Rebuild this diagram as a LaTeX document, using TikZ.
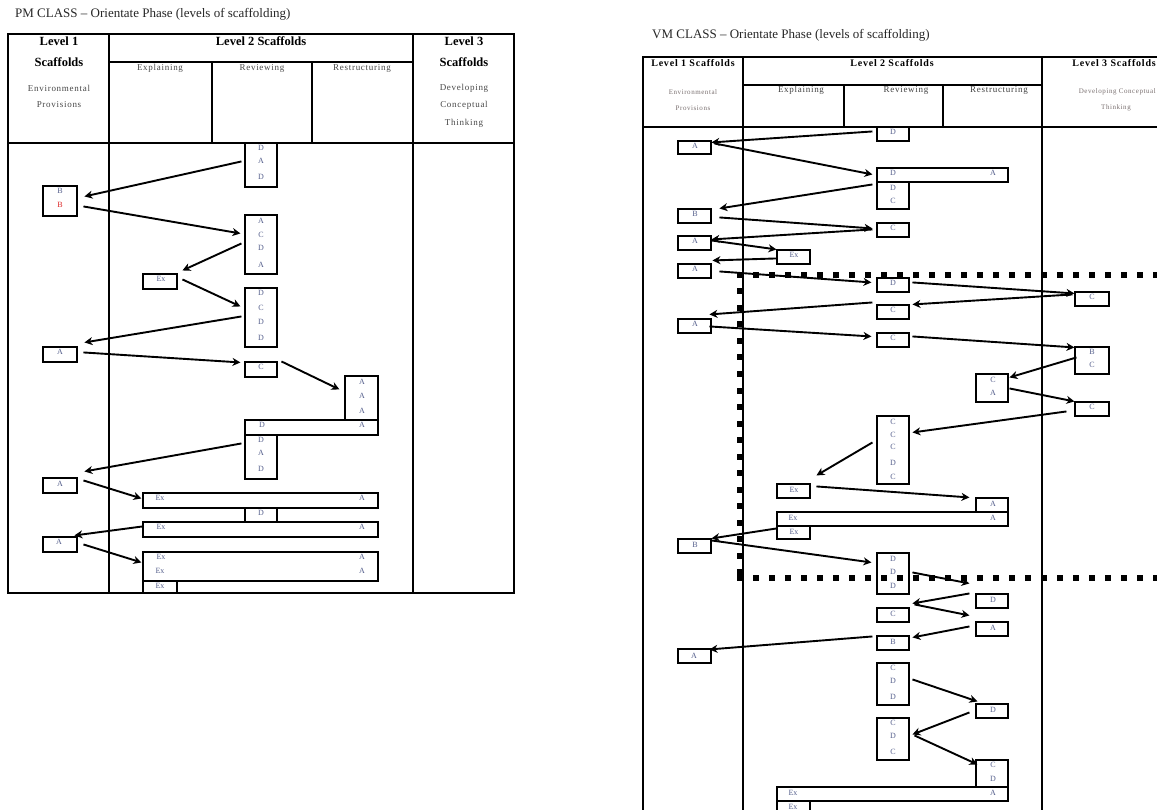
\documentclass[tikz,border=0pt]{standalone}
\usepackage{fontspec}
\setmainfont{Liberation Serif}
\newfontfamily\spc[LetterSpace=8]{Liberation Serif}
\newfontfamily\spcb[LetterSpace=8]{Liberation Serif}
\usetikzlibrary{calc,fit,arrows.meta}
\definecolor{letc}{RGB}{85,95,140}
\definecolor{subc}{RGB}{70,70,70}
\definecolor{envc}{RGB}{120,110,110}
\definecolor{redb}{RGB}{220,40,40}
\begin{document}
\begin{tikzpicture}[x=1pt,y=-1pt,
  bx/.style={draw, inner sep=0pt, line width=1.1pt},
  lt/.style={font=\fontsize{8}{9}\selectfont, text=letc, inner sep=0pt},
  arr/.style={line width=1.9pt, -{Stealth[length=8pt,width=8pt,inset=2.5pt]}},
  tl/.style={line width=1.3pt},
  ttl/.style={anchor=west, font=\fontsize{13}{15}\selectfont, text=black!85, inner sep=0pt},
  hd/.style={font=\fontsize{12.5}{14}\selectfont\bfseries, inner sep=0pt},
  hdv/.style={font=\spcb\fontsize{10}{12}\selectfont\bfseries, inner sep=0pt},
  sub/.style={font=\spc\fontsize{9}{10}\selectfont, text=subc, inner sep=0pt},
  subv/.style={font=\spcb\fontsize{9}{10}\selectfont, text=black!75, inner sep=0pt},
  envv/.style={font=\spcb\fontsize{7}{8}\selectfont, text=envc, inner sep=0pt},
  dots/.style={line width=6pt, dash pattern=on 6pt off 10pt}]
\useasboundingbox (0,0) rectangle (1157,810);
\clip (0,0) rectangle (1157,810);
% ---------------- PM table ----------------
\node[ttl] (t1) at (15,14) {PM CLASS – Orientate Phase (levels of scaffolding)};
\draw[tl] (8,34) rectangle (514,593);
\draw[tl] (109,34) -- (109,593) (413,34) -- (413,593)
  (8,143) -- (514,143) (109,62) -- (413,62)
  (212,62) -- (212,143) (312,62) -- (312,143);
\node[hd] (ph1) at (59,41) {Level 1};
\node[hd] (ph2) at (59,62) {Scaffolds};
\node[hd] (ph3) at (261,41) {Level 2 Scaffolds};
\node[hd] (ph4) at (464,41) {Level 3};
\node[hd] (ph5) at (464,62) {Scaffolds};
\node[sub] (ps1) at (59,88) {Environmental};
\node[sub] (ps2) at (59,105) {Provisions};
\node[sub] (ps3) at (160,68) {Explaining};
\node[sub] (ps4) at (262,68) {Reviewing};
\node[sub] (ps5) at (362,68) {Restructuring};
\node[sub] (ps6) at (464,88) {Developing};
\node[sub] (ps7) at (464,105) {Conceptual};
\node[sub] (ps8) at (464,123) {Thinking};
% boxes
\node[bx, fit={(245,143)(277,187)}] (p1) {};
\node[bx, fit={(43,186)(77,216)}] (p2) {};
\node[bx, fit={(245,215)(277,274)}] (p3) {};
\node[bx, fit={(143,274)(177,289)}] (p4) {};
\node[bx, fit={(245,288)(277,347)}] (p5) {};
\node[bx, fit={(43,347)(77,362)}] (p6) {};
\node[bx, fit={(245,362)(277,377)}] (p7) {};
\node[bx, fit={(345,376)(378,420)}] (p8) {};
\node[bx, fit={(245,420)(378,435)}] (p9) {};
\node[bx, fit={(245,435)(277,479)}] (p10) {};
\node[bx, fit={(43,478)(77,493)}] (p11) {};
\node[bx, fit={(143,493)(378,508)}] (p12) {};
\node[bx, fit={(245,508)(277,522)}] (p13) {};
\node[bx, fit={(143,522)(378,537)}] (p14) {};
\node[bx, fit={(43,537)(77,552)}] (p15) {};
\node[bx, fit={(143,552)(378,581)}] (p16) {};
\node[bx, fit={(143,581)(177,593)}] (p17) {};
\foreach \x/\y/\t [count=\i] in {261/148/D, 261/161/A, 261/177/D, 60/191/B,
  261/221/A, 261/235/C, 261/248/D, 261/265/A, 161/279/Ex,
  261/293/D, 261/308/C, 261/322/D, 261/338/D, 60/352/A, 261/367/C,
  362/382/A, 362/396/A, 362/411/A, 262/425/D, 362/425/A,
  261/440/D, 261/453/A, 261/469/D, 60/484/A, 160/498/Ex, 362/498/A,
  261/513/D, 161/527/Ex, 362/527/A, 59/542/A,
  161/557/Ex, 362/557/A, 160/571/Ex, 362/571/A, 160/586/Ex}
  \node[lt] (pl\i) at (\x,\y) {\t};
\node[lt, text=redb] (plred) at (60,205) {B};
% arrows
\draw[arr] ($(p1.north west)+(-3,19)$) -- ($(p2.north west)+(42,11)$);
\draw[arr] ($(p2.north west)+(41,21)$) -- ($(p3.north west)+(-4,19)$);
\draw[arr] ($(p3.north west)+(-3,29)$) -- ($(p4.north west)+(40,-3)$);
\draw[arr] ($(p4.north west)+(40,6)$) -- ($(p5.north west)+(-4,19)$);
\draw[arr] ($(p5.north west)+(-3,29)$) -- ($(p6.north west)+(42,-4)$);
\draw[arr] ($(p6.north west)+(41,6)$) -- ($(p7.north west)+(-4,1)$);
\draw[arr] ($(p7.north west)+(37,0)$) -- ($(p8.north west)+(-5,14)$);
\draw[arr] ($(p10.north west)+(-3,9)$) -- ($(p11.north west)+(42,-6)$);
\draw[arr] ($(p11.north west)+(41,3)$) -- ($(p12.north west)+(-1,6)$);
\draw[arr] ($(p14.north west)+(0,5)$) -- ($(p15.north west)+(32,-1)$);
\draw[arr] ($(p15.north west)+(41,8)$) -- ($(p16.north west)+(-1,11)$);
% ---------------- VM table ----------------
\node[ttl] (t2) at (652,35) {VM CLASS – Orientate Phase (levels of scaffolding)};
\draw[tl] (643,57) rectangle (1194,830);
\draw[tl] (743,57) -- (743,830) (1042,57) -- (1042,830)
  (643,127) -- (1194,127) (743,85) -- (1042,85)
  (844,85) -- (844,127) (943,85) -- (943,127);
\node[hdv] (vh1) at (693,63) {Level 1 Scaffolds};
\node[hdv] (vh2) at (892,63) {Level 2 Scaffolds};
\node[hdv, anchor=east] (vh3) at (1156,63) {Level 3 Scaffolds};
\node[envv] (ve1) at (693,92) {Environmental};
\node[envv] (ve2) at (693,108) {Provisions};
\node[subv] (vs1) at (801,90) {Explaining};
\node[subv] (vs2) at (906,90) {Reviewing};
\node[subv] (vs3) at (999,90) {Restructuring};
\node[envv, anchor=east] (ve3) at (1156,92) {Developing Conceptual};
\node[envv] (ve4) at (1116,108) {Thinking};
% boxes
\node[bx, fit={(877,127)(909,141)}] (v1) {};
\node[bx, fit={(678,141)(711,154)}] (v2) {};
\node[bx, fit={(877,168)(1008,182)}] (v3) {};
\node[bx, fit={(877,182)(909,209)}] (v4) {};
\node[bx, fit={(678,209)(711,223)}] (v5) {};
\node[bx, fit={(877,223)(909,237)}] (v6) {};
\node[bx, fit={(678,236)(711,250)}] (v7) {};
\node[bx, fit={(777,250)(810,264)}] (v8) {};
\node[bx, fit={(678,264)(711,278)}] (v9) {};
\node[bx, fit={(877,278)(909,292)}] (v10) {};
\node[bx, fit={(1075,292)(1109,306)}] (v11) {};
\node[bx, fit={(877,305)(909,319)}] (v12) {};
\node[bx, fit={(678,319)(711,333)}] (v13) {};
\node[bx, fit={(877,333)(909,347)}] (v14) {};
\node[bx, fit={(1075,347)(1109,374)}] (v15) {};
\node[bx, fit={(976,374)(1008,402)}] (v16) {};
\node[bx, fit={(1075,402)(1109,416)}] (v17) {};
\node[bx, fit={(877,416)(909,484)}] (v18) {};
\node[bx, fit={(777,484)(810,498)}] (v19) {};
\node[bx, fit={(976,498)(1008,512)}] (v20) {};
\node[bx, fit={(777,512)(1008,526)}] (v21) {};
\node[bx, fit={(777,526)(810,539)}] (v22) {};
\node[bx, fit={(678,539)(711,553)}] (v23) {};
\node[bx, fit={(877,553)(909,594)}] (v24) {};
\node[bx, fit={(976,594)(1008,608)}] (v25) {};
\node[bx, fit={(877,608)(909,622)}] (v26) {};
\node[bx, fit={(976,622)(1008,636)}] (v27) {};
\node[bx, fit={(877,636)(909,650)}] (v28) {};
\node[bx, fit={(678,649)(711,663)}] (v29) {};
\node[bx, fit={(877,663)(909,705)}] (v30) {};
\node[bx, fit={(976,704)(1008,718)}] (v31) {};
\node[bx, fit={(877,718)(909,760)}] (v32) {};
\node[bx, fit={(976,760)(1008,787)}] (v33) {};
\node[bx, fit={(777,787)(1008,801)}] (v34) {};
\node[bx, fit={(777,801)(810,815)}] (v35) {};
\foreach \x/\y/\t [count=\i] in {893/132/D, 695/146/A, 893/173/D, 993/173/A,
  893/188/D, 893/201/C, 695/214/B, 893/228/C, 695/241/A, 794/255/Ex, 695/269/A,
  893/283/D, 1092/297/C, 893/310/C, 695/324/A, 893/338/C, 1092/352/B, 1092/365/C,
  993/380/C, 993/393/A, 1092/407/C, 893/422/C, 893/435/C, 893/447/C, 893/463/D,
  893/477/C, 794/490/Ex, 993/504/A, 793/518/Ex, 993/518/A, 794/532/Ex, 695/545/B,
  893/559/D, 893/572/D, 893/586/D, 993/600/D, 893/614/C, 993/628/A, 893/642/B,
  694/656/A, 893/668/C, 893/681/D, 893/697/D, 993/710/D, 893/723/C, 893/736/D,
  893/752/C, 993/765/C, 993/779/D, 793/793/Ex, 993/793/A, 793/807/Ex}
  \node[lt] (vl\i) at (\x,\y) {\t};
% arrows
\draw[arr] ($(v1.north west)+(-4,5)$) -- ($(v2.north west)+(34,2)$);
\draw[arr] ($(v2.north west)+(37,3)$) -- ($(v3.north west)+(-4,7)$);
\draw[arr] ($(v4.north west)+(-4,3)$) -- ($(v5.north west)+(42,0)$);
\draw[arr] ($(v5.north west)+(42,9)$) -- ($(v6.north west)+(-4,6)$);
\draw[arr] ($(v6.north west)+(-4,7)$) -- ($(v7.north west)+(34,4)$);
\draw[arr] ($(v7.north west)+(34,5)$) -- ($(v8.north west)+(0,0)$);
\draw[arr] ($(v8.north west)+(0,9)$) -- ($(v9.north west)+(35,-3)$);
\draw[arr] ($(v9.north west)+(42,8)$) -- ($(v10.north west)+(-5,5)$);
\draw[arr] ($(v10.north west)+(36,5)$) -- ($(v11.north west)+(0,2)$);
\draw[arr] ($(v11.north west)+(-2,3)$) -- ($(v12.north west)+(36,0)$);
\draw[arr] ($(v12.north west)+(-4,-2)$) -- ($(v13.north west)+(32,-4)$);
\draw[arr] ($(v13.north west)+(32,8)$) -- ($(v14.north west)+(-5,4)$);
\draw[arr] ($(v14.north west)+(36,4)$) -- ($(v15.north west)+(0,1)$);
\draw[arr] ($(v15.north west)+(2,11)$) -- ($(v16.north west)+(34,4)$);
\draw[arr] ($(v16.north west)+(34,15)$) -- ($(v17.north west)+(0,0)$);
\draw[arr] ($(v17.north west)+(-8,10)$) -- ($(v18.north west)+(36,17)$);
\draw[arr] ($(v18.north west)+(-4,27)$) -- ($(v19.north west)+(40,-8)$);
\draw[arr] ($(v19.north west)+(40,3)$) -- ($(v20.north west)+(-6,0)$);
\draw[arr] ($(v22.north west)+(0,3)$) -- ($(v23.north west)+(34,0)$);
\draw[arr] ($(v23.north west)+(34,2)$) -- ($(v24.north west)+(-5,10)$);
\draw[arr] ($(v24.north west)+(36,20)$) -- ($(v25.north west)+(-6,-10)$);
\draw[arr] ($(v25.north west)+(-6,0)$) -- ($(v26.north west)+(36,-4)$);
\draw[arr] ($(v26.north west)+(38,-3)$) -- ($(v27.north west)+(-6,-6)$);
\draw[arr] ($(v27.north west)+(-6,5)$) -- ($(v28.north west)+(36,2)$);
\draw[arr] ($(v28.north west)+(-4,1)$) -- ($(v29.north west)+(32,1)$);
\draw[arr] ($(v30.north west)+(36,17)$) -- ($(v31.north west)+(2,-2)$);
\draw[arr] ($(v31.north west)+(-6,9)$) -- ($(v32.north west)+(36,17)$);
\draw[arr] ($(v32.north west)+(38,18)$) -- ($(v33.north west)+(2,5)$);
% dotted frame
\draw[dots] (737,275) -- (1160,275);
\draw[dots, dash pattern=on 6pt off 10.5pt] (739.5,272) -- (739.5,580);
\draw[dots] (737,578) -- (1160,578);
\end{tikzpicture}
\end{document}
